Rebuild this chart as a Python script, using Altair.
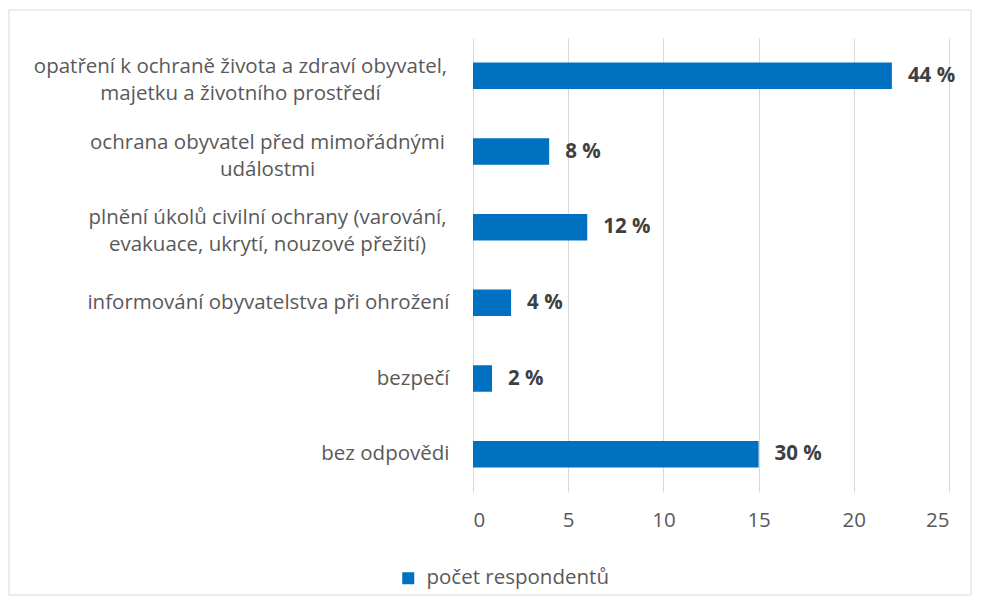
import altair as alt
import pandas as pd

categories = [
    "opatření k ochraně života a zdraví obyvatel,\nmajetku a životního prostředí",
    "ochrana obyvatel před mimořádnými\nudálostmi",
    "plnění úkolů civilní ochrany (varování,\nevakuace, ukrytí, nouzové přežití)",
    "informování obyvatelstva při ohrožení",
    "bezpečí",
    "bez odpovědi",
]
values = [22, 4, 6, 2, 1, 15]
value_labels = ["44 %", "8 %", "12 %", "4 %", "2 %", "30 %"]
series_name = "počet respondentů"
x_ticks = [0, 5, 10, 15, 20, 25]

df = pd.DataFrame({
    "category": categories,
    "value": values,
    "label": value_labels,
    "series": [series_name] * len(categories),
})

FONT = "Open Sans"
GRAY = "#595959"
BLUE = "#0070C0"
FS = 20.5

MULTI = "indexof(datum.value, '\\n') >= 0"
FIRST = "indexof(datum.value, 'opatření') == 0"

border = alt.Chart(pd.DataFrame({"a": [0]})).mark_rect(
    fillOpacity=0, stroke="#d9d9d9", strokeWidth=1
).encode(
    x=alt.value(-464), x2=alt.value(498), y=alt.value(-28), y2=alt.value(557)
)

y_enc = alt.Y(
    "category:N",
    sort=None,
    scale=alt.Scale(paddingInner=0.65, paddingOuter=0.325),
    axis=alt.Axis(
        title=None,
        labelExpr="split(datum.label, '\\n')",
        labelFont=FONT,
        labelFontSize=FS,
        labelColor=GRAY,
        labelLineHeight=27,
        labelAlign={"condition": {"test": MULTI, "value": "center"}, "value": "right"},
        labelPadding={
            "condition": [
                {"test": FIRST, "value": 233},
                {"test": MULTI, "value": 206},
            ],
            "value": 24,
        },
        labelOffset={"condition": {"test": MULTI, "value": -9}, "value": 0},
        labelLimit=0,
        ticks=False,
        domain=False,
    ),
)

bars = alt.Chart(df).mark_bar(color=BLUE).encode(
    x=alt.X(
        "value:Q",
        scale=alt.Scale(domain=[0, 25], nice=False),
        axis=alt.Axis(
            title=None,
            values=x_ticks,
            labelFont=FONT,
            labelFontSize=FS,
            labelColor=GRAY,
            labelPadding=18,
            ticks=False,
            domain=False,
            grid=True,
            gridColor="#d9d9d9",
            gridWidth=1,
        ),
    ),
    y=y_enc,
    color=alt.Color(
        "series:N",
        scale=alt.Scale(domain=[series_name], range=[BLUE]),
        legend=alt.Legend(
            title=None,
            orient="none",
            legendX=-75,
            legendY=530,
            symbolType="square",
            symbolSize=144,
            symbolStrokeWidth=0,
            labelFont=FONT,
            labelFontSize=FS,
            labelColor=GRAY,
            labelOffset=8,
            labelLimit=400,
            padding=0,
        ),
    ),
)

texts = alt.Chart(df).mark_text(
    align="left", baseline="middle", dx=16, font=FONT, fontSize=FS,
    fontWeight="bold", color="#404040"
).encode(
    x="value:Q",
    y=alt.Y("category:N", sort=None),
    text="label:N",
)

chart = alt.layer(border, bars, texts).properties(
    width=476,
    height=454,
    autosize=alt.AutoSizeParams(type="none"),
    padding={"left": 465, "top": 30, "right": 24, "bottom": 104},
).configure_view(stroke=None)

chart.save("out.html", embed_options={"renderer": "svg", "actions": False})
